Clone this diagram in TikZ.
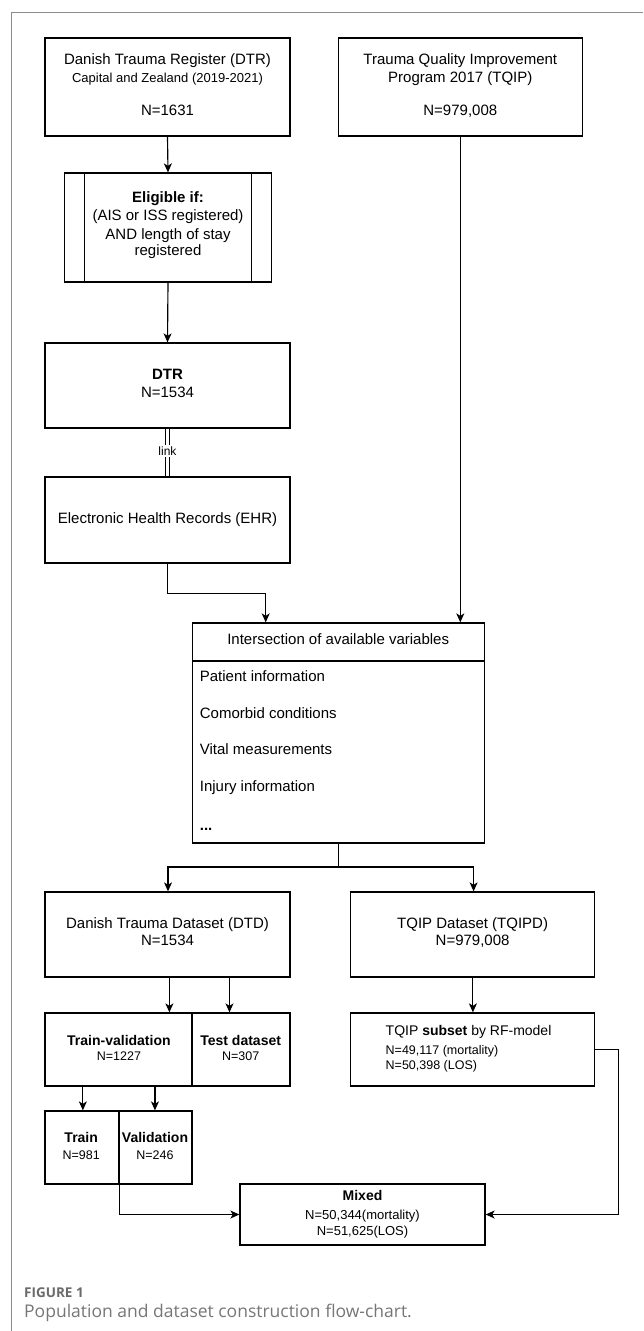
\documentclass[tikz,border=0pt]{standalone}
\usepackage{fontspec}
\setmainfont{Liberation Sans}
\newfontfamily\capfont{Open Sans}
\usetikzlibrary{arrows.meta}
\newcommand{\szL}{\fontsize{15}{18}\selectfont}
\newcommand{\szM}{\fontsize{14}{17}\selectfont}
\newcommand{\szN}{\fontsize{13}{16}\selectfont}
\newcommand{\szS}{\fontsize{12.5}{15}\selectfont}
\definecolor{framegray}{HTML}{8C8C8C}
\definecolor{capgray}{HTML}{767676}
\definecolor{figgray}{HTML}{6A6A6A}
\begin{document}
\begin{tikzpicture}[x=1pt,y=-1pt,
  box/.style={draw=black, line width=1.3pt, inner sep=0pt},
  arr/.style={line width=1.15pt, -{Stealth[length=9pt,width=8pt,inset=2.5pt]}},
  conn/.style={line width=1.15pt},
  tL/.style={inner sep=0pt, anchor=mid, font=\szL},
  tM/.style={inner sep=0pt, anchor=mid, font=\szM},
  tN/.style={inner sep=0pt, anchor=mid, font=\szN},
  tS/.style={inner sep=0pt, anchor=mid, font=\szS},
  item/.style={inner sep=0pt, anchor=mid west, font=\szL}]
\useasboundingbox (0,0) rectangle (643,1331);
\draw[framegray, line width=1pt] (643,12.5) -- (11,12.5) -- (11,1331);

% top boxes
\node[box, minimum width=245pt, minimum height=98pt] (dtr) at (167.5,87) {};
\node[tL] (dtr1) at (167.5,62) {Danish Trauma Register (DTR)};
\node[tN] (dtr2t) at (167.5,80) {Capital and Zealand (2019-2021)};
\node[tL] (dtr3) at (167.5,113) {N=1631};

\node[box, minimum width=244pt, minimum height=98pt] (tqip) at (460.3,87) {};
\node[tL] (tq1) at (460.3,62) {Trauma Quality Improvement};
\node[tL] (tq2) at (460.3,80) {Program 2017 (TQIP)};
\node[tL] (tq3) at (460.3,113) {N=979,008};

% eligibility
\node[box, minimum width=207pt, minimum height=109pt] (elig) at (168,227.5) {};
\draw[line width=1.3pt] ([xshift=20.5pt]elig.north west) -- ([xshift=20.5pt]elig.south west);
\draw[line width=1.3pt] ([xshift=-20.5pt]elig.north east) -- ([xshift=-20.5pt]elig.south east);
\node[tL] (el1) at (168,200) {\bfseries Eligible if:};
\node[tL] (el2) at (168,218) {(AIS or ISS registered)};
\node[tL] (el3) at (168,237) {AND length of stay};
\node[tL] (el4) at (168,253) {registered};

% DTR 1534
\node[box, minimum width=245pt, minimum height=85pt] (dtrb) at (167.5,385.5) {};
\node[tL] (db1) at (167.5,377) {\bfseries DTR};
\node[tL] (db2) at (167.5,395) {N=1534};

% EHR
\node[box, minimum width=245pt, minimum height=86pt] (ehr) at (167.5,520) {};
\node[tL] (eh1) at (167.5,521) {Electronic Health Records (EHR)};

% link
\node[inner sep=1.5pt, anchor=mid, font=\fontsize{12}{14}\selectfont] (link) at (167.5,453) {link};
\draw[line width=0.9pt, double, double distance=3pt] (dtrb.south) -- (link.north);
\draw[line width=0.9pt, double, double distance=3pt] (link.south) -- (ehr.north);

% intersection
\node[box, minimum width=292pt, minimum height=220pt] (int) at (338.7,733) {};
\coordinate (hd) at (0,661);
\draw[line width=1.3pt] (int.west |- hd) -- (int.east |- hd);
\node[tL] (ih) at (338.2,642) {Intersection of available variables};
\node[item] (i1) at (199.7,679) {Patient information};
\node[item] (i2) at (199.7,716) {Comorbid conditions};
\node[item] (i3) at (199.7,752) {Vital measurements};
\node[item] (i4) at (199.7,789) {Injury information};
\node[item] (i5) at (199.7,828) {\bfseries ...};

% datasets
\node[box, minimum width=245pt, minimum height=85pt] (dtd) at (167.5,934.5) {};
\node[tL] (dd1) at (167.5,926) {Danish Trauma Dataset (DTD)};
\node[tL] (dd2) at (167.5,943) {N=1534};
\node[box, minimum width=244pt, minimum height=85pt] (tqipd) at (472.6,934.5) {};
\node[tL] (td1) at (472.6,926) {TQIP Dataset (TQIPD)};
\node[tL] (td2) at (472.6,943) {N=979,008};

% train-validation / test
\node[box, minimum width=147pt, minimum height=73pt] (tv) at (118.45,1049.5) {};
\node[box, minimum width=98pt, minimum height=73pt] (test) at (240.95,1049.5) {};
\node[tM] (tv1) at (118.9,1043) {\bfseries Train-validation};
\node[tS] (tv2) at (118.9,1058) {N=1227};
\node[tM] (te1) at (240.7,1043) {\bfseries Test dataset};
\node[tS] (te2) at (240.7,1058) {N=307};

% subset
\node[box, minimum width=244pt, minimum height=73pt] (sub) at (472.6,1049.5) {};
\node[tM, anchor=mid west] (sb1) at (385.5,1033) {TQIP \textbf{subset} by RF-model};
\node[tS, anchor=mid west] (sb2) at (385.5,1052) {N=49,117 (mortality)};
\node[tS, anchor=mid west] (sb3) at (385.5,1067) {N=50,398 (LOS)};

% train / validation
\node[box, minimum width=74pt, minimum height=73pt] (train) at (81.95,1147.5) {};
\node[box, minimum width=73pt, minimum height=73pt] (val) at (155.4,1147.5) {};
\node[tM] (tr1) at (81.2,1140) {\bfseries Train};
\node[tS] (tr2) at (81.2,1157) {N=981};
\node[tM] (va1) at (155,1140) {\bfseries Validation};
\node[tS] (va2) at (155,1157) {N=246};

% mixed
\node[box, minimum width=245pt, minimum height=61pt] (mixed) at (362.5,1214.5) {};
\node[tM] (mx1) at (362.5,1198) {\bfseries Mixed};
\node[tN] (mx2) at (362.5,1217) {N=50,344(mortality)};
\node[tN] (mx3) at (362.5,1233) {N=51,625(LOS)};

% connectors
\draw[arr] (dtr.south) -- (elig.north);
\draw[arr] (elig.south) -- (dtrb.north);
\draw[arr] (ehr.south) -- ++(0,30) -| ([xshift=-73pt]int.north);
\draw[arr] (tqip.south) -- (tqip.south |- int.north);
\coordinate (sp) at (338.7,867);
\draw[conn] (int.south) -- (sp);
\draw[arr] (sp) -| ([xshift=0.5pt]dtd.north);
\draw[arr] (sp) -| ([xshift=1pt]tqipd.north);
\draw[arr] ([xshift=1.9pt]dtd.south) -- ([xshift=1.9pt]dtd.south |- tv.north);
\draw[arr] ([xshift=62pt]dtd.south) -- ([xshift=62pt]dtd.south |- tv.north);
\draw[arr] ([xshift=0.3pt]tqipd.south) -- ([xshift=0.3pt]sub.north);
\draw[arr] ([xshift=-35.6pt]tv.south) -- ([xshift=-35.6pt]tv.south |- train.north);
\draw[arr] ([xshift=36.5pt]tv.south) -- ([xshift=36.5pt]tv.south |- val.north);
\draw[arr] (train.south east) |- (mixed.west);
\coordinate (rc) at (618.4,1214.5);
\draw[arr] (sub.east) -| (rc) -- (mixed.east);

% caption
\node[inner sep=0pt, anchor=mid west, font={\capfont\bfseries\fontsize{13.5}{16}\selectfont}, text=figgray] (figno) at (24,1295) {FIGURE 1};
\node[inner sep=0pt, anchor=mid west, font={\capfont\fontsize{17.5}{20}\selectfont}, text=capgray] (cap) at (24,1315) {Population and dataset construction flow-chart.};
\end{tikzpicture}
\end{document}
